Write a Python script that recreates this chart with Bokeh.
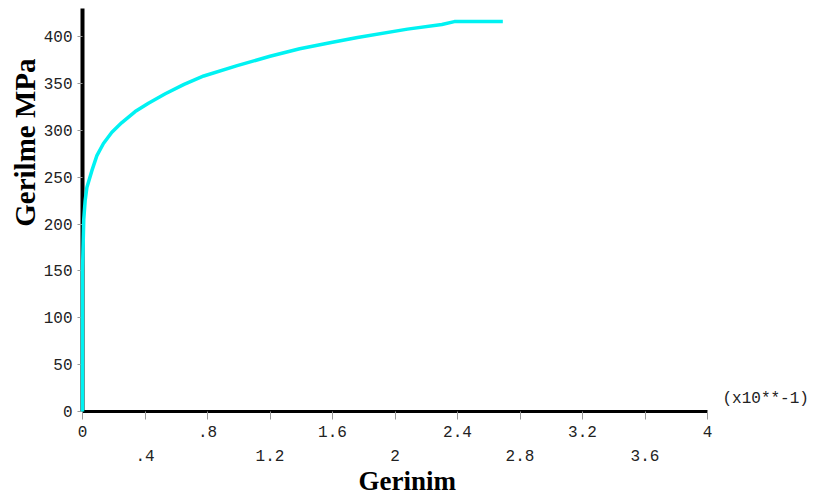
from bokeh.plotting import figure
from bokeh.models import LinearAxis, FixedTicker, Range1d, Label, Title
from bokeh.embed import file_html
from bokeh.resources import INLINE

# --- data (strain in units of 10**-1, stress in MPa) ---
strain = [0, 0, 0.008, 0.017, 0.028, 0.06, 0.092, 0.134, 0.188, 0.25, 0.337,
          0.422, 0.53, 0.65, 0.776, 0.99, 1.2, 1.39, 1.6, 1.76, 2.08, 2.3,
          2.38, 2.69]
stress = [0, 150, 205, 225, 239, 257, 273, 286, 298, 308, 320,
          329, 339, 349, 358, 369, 379, 387, 394, 399, 408, 413,
          416, 416]

x_ticks_upper = [0, 0.8, 1.6, 2.4, 3.2, 4]
x_labels_upper = ["0", ".8", "1.6", "2.4", "3.2", "4"]
x_ticks_lower = [0.4, 1.2, 2.0, 2.8, 3.6]
x_labels_lower = [".4", "1.2", "2", "2.8", "3.6"]
y_ticks = [0, 50, 100, 150, 200, 250, 300, 350, 400]

x_title = "Gerinim"
y_title = "Gerilme MPa"
x_scale_note = "(x10**-1)"

MONO = "Liberation Mono"
SERIF = "Liberation Serif"

# frame spans from the y axis to the right edge; x axis drawn only over 0..4
p = figure(width=819, height=498, x_range=Range1d(0, 4.7168), y_range=Range1d(0, 430),
           output_backend="svg", toolbar_location=None,
           x_axis_location=None, y_axis_location=None,
           min_border_left=82, min_border_right=0,
           min_border_top=8, min_border_bottom=87)
p.outline_line_color = None
p.background_fill_color = "white"
p.border_fill_color = "white"
for g in p.grid:
    g.visible = False

# y axis
yaxis = LinearAxis(ticker=FixedTicker(ticks=y_ticks))
yaxis.axis_line_color = "black"
yaxis.axis_line_width = 4
yaxis.major_tick_in = 0
yaxis.major_tick_out = 5
yaxis.major_tick_line_color = "#999999"
yaxis.minor_tick_line_color = None
yaxis.major_label_standoff = 5
yaxis.major_label_text_font = MONO
yaxis.major_label_text_font_size = "16px"
yaxis.major_label_text_color = "#222222"
p.add_layout(yaxis, "left")

# x axis, upper row of labels
xaxis1 = LinearAxis(ticker=FixedTicker(ticks=x_ticks_upper, minor_ticks=x_ticks_lower),
                    major_label_overrides=dict(zip(x_ticks_upper, x_labels_upper)),
                    bounds=(0, 4))
xaxis1.axis_line_color = "black"
xaxis1.axis_line_width = 3
xaxis1.major_tick_in = 0
xaxis1.major_tick_out = 8
xaxis1.minor_tick_in = 0
xaxis1.minor_tick_out = 8
xaxis1.major_tick_line_color = "#999999"
xaxis1.minor_tick_line_color = "#999999"
xaxis1.major_label_standoff = 6
xaxis1.major_label_text_font = MONO
xaxis1.major_label_text_font_size = "16px"
xaxis1.major_label_text_color = "#222222"
p.add_layout(xaxis1, "below")

# x axis, lower row of labels
xaxis2 = LinearAxis(ticker=FixedTicker(ticks=x_ticks_lower),
                    major_label_overrides=dict(zip(x_ticks_lower, x_labels_lower)),
                    bounds=(0, 4))
xaxis2.axis_line_color = None
xaxis2.major_tick_line_color = None
xaxis2.minor_tick_line_color = None
xaxis2.major_tick_in = 0
xaxis2.major_tick_out = 0
xaxis2.major_label_standoff = 10
xaxis2.major_label_text_font = MONO
xaxis2.major_label_text_font_size = "16px"
xaxis2.major_label_text_color = "#222222"
p.add_layout(xaxis2, "below")

r = p.line(strain, stress, line_color="#00F2F2", line_width=3.5)
r.level = "overlay"

p.add_layout(Title(text=y_title, align="right", offset=50, standoff=0,
                   text_font=SERIF, text_font_style="bold", text_font_size="29px",
                   text_color="black"), "left")
p.add_layout(Title(text=x_title, align="left", offset=276, standoff=0,
                   text_font=SERIF, text_font_style="bold", text_font_size="27px",
                   text_color="black"), "below")
p.add_layout(Label(x=4, y=0, x_offset=15, y_offset=13, text=x_scale_note,
                   text_font=MONO, text_font_size="16px",
                   text_align="left", text_baseline="middle", text_color="#222222"))

open("out.html", "w").write(file_html(p, INLINE))
